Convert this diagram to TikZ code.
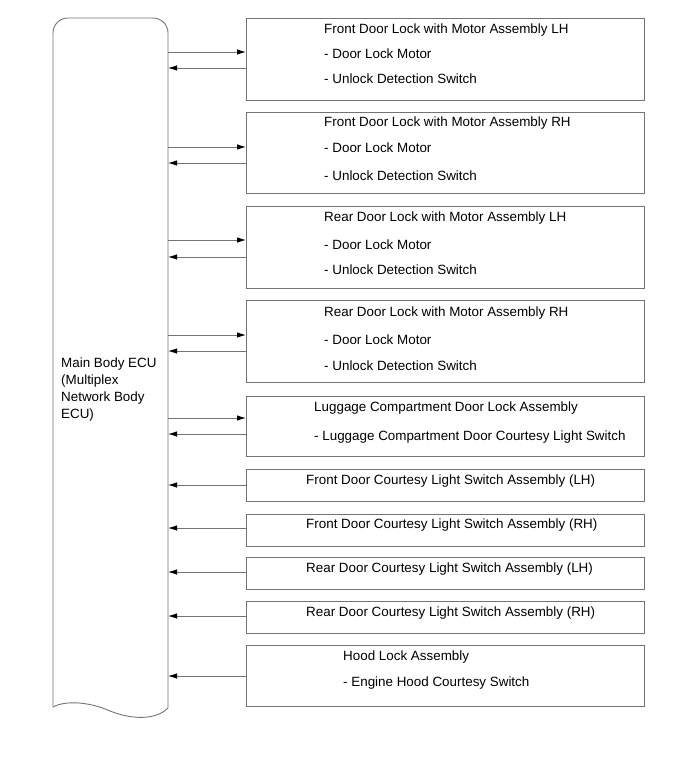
\documentclass[tikz,border=0pt]{standalone}
\usepackage{fontspec}
\setmainfont{Liberation Sans}
\usetikzlibrary{arrows.meta}
\begin{document}
\begin{tikzpicture}[x=1pt,y=-1pt,
  line/.style={draw=black!55, line width=0.9pt},
  box/.style={line, anchor=north west, minimum width=398pt, inner sep=0pt, outer sep=0pt},
  txt/.style={anchor=base west, inner sep=0pt, font=\fontsize{13.4}{16}\selectfont},
  arr/.style={line, -{Latex[length=9pt,width=5.5pt,black]}, shorten >=0pt}
]
\useasboundingbox (0,0) rectangle (691,759);
% ECU
\node[anchor=north west, minimum width=115pt, minimum height=690pt, inner sep=0pt, outer sep=0pt] (ecu) at (53,18) {};
\draw[line, rounded corners=15pt] (53,707) -- (53,18) -- (168,18) -- (168,708);
\draw[line] (168,708) .. controls (155,721) and (130,719) .. (110,711) .. controls (90,702) and (66,700) .. (53,707);
\node[txt] (e1) at (61,367) {Main Body ECU};
\node[txt] (e2) at (61,384) {(Multiplex};
\node[txt] (e3) at (61,401) {Network Body};
\node[txt] (e4) at (61,418) {ECU)};
% boxes
\node[box, minimum height=82pt] (b1) at (246,18) {};
\node[box, minimum height=81pt] (b2) at (246,112) {};
\node[box, minimum height=82pt] (b3) at (246,206) {};
\node[box, minimum height=82pt] (b4) at (246,300) {};
\node[box, minimum height=60pt] (b5) at (246,396) {};
\node[box, minimum height=32pt] (b6) at (246,469) {};
\node[box, minimum height=32pt] (b7) at (246,514) {};
\node[box, minimum height=32pt] (b8) at (246,557) {};
\node[box, minimum height=32pt] (b9) at (246,601) {};
\node[box, minimum height=61pt] (b10) at (246,645) {};
% texts
\node[txt] (t1a) at (324,34) {Front Door Lock with Motor Assembly LH};
\node[txt] (t1b) at (324,59) {- Door Lock Motor};
\node[txt] (t1c) at (324,84) {- Unlock Detection Switch};
\node[txt] (t2a) at (324,127) {Front Door Lock with Motor Assembly RH};
\node[txt] (t2b) at (324,153) {- Door Lock Motor};
\node[txt] (t2c) at (324,181) {- Unlock Detection Switch};
\node[txt] (t3a) at (324,222) {Rear Door Lock with Motor Assembly LH};
\node[txt] (t3b) at (324,249) {- Door Lock Motor};
\node[txt] (t3c) at (324,274) {- Unlock Detection Switch};
\node[txt] (t4a) at (324,316) {Rear Door Lock with Motor Assembly RH};
\node[txt] (t4b) at (324,344) {- Door Lock Motor};
\node[txt] (t4c) at (324,370) {- Unlock Detection Switch};
\node[txt] (t5a) at (314,411) {Luggage Compartment Door Lock Assembly};
\node[txt] (t5b) at (314,440) {- Luggage Compartment Door Courtesy Light Switch};
\node[txt] (t6) at (306,484) {Front Door Courtesy Light Switch Assembly (LH)};
\node[txt] (t7) at (306,528) {Front Door Courtesy Light Switch Assembly (RH)};
\node[txt] (t8) at (306,572) {Rear Door Courtesy Light Switch Assembly (LH)};
\node[txt] (t9) at (306,616) {Rear Door Courtesy Light Switch Assembly (RH)};
\node[txt] (t10a) at (343,660) {Hood Lock Assembly};
\node[txt] (t10b) at (343,686) {- Engine Hood Courtesy Switch};
% arrows
\draw[arr] (ecu.east |- 0,52) -- (b1.west |- 0,52);
\draw[arr] (b1.west |- 0,68) -- (ecu.east |- 0,68);
\draw[arr] (ecu.east |- 0,147) -- (b2.west |- 0,147);
\draw[arr] (b2.west |- 0,163) -- (ecu.east |- 0,163);
\draw[arr] (ecu.east |- 0,240) -- (b3.west |- 0,240);
\draw[arr] (b3.west |- 0,257) -- (ecu.east |- 0,257);
\draw[arr] (ecu.east |- 0,335) -- (b4.west |- 0,335);
\draw[arr] (b4.west |- 0,351) -- (ecu.east |- 0,351);
\draw[arr] (ecu.east |- 0,418) -- (b5.west |- 0,418);
\draw[arr] (b5.west |- 0,434) -- (ecu.east |- 0,434);
\draw[arr] (b6.west |- 0,485) -- (ecu.east |- 0,485);
\draw[arr] (b7.west |- 0,528) -- (ecu.east |- 0,528);
\draw[arr] (b8.west |- 0,572) -- (ecu.east |- 0,572);
\draw[arr] (b9.west |- 0,616) -- (ecu.east |- 0,616);
\draw[arr] (b10.west |- 0,676) -- (ecu.east |- 0,676);
\end{tikzpicture}
\end{document}
